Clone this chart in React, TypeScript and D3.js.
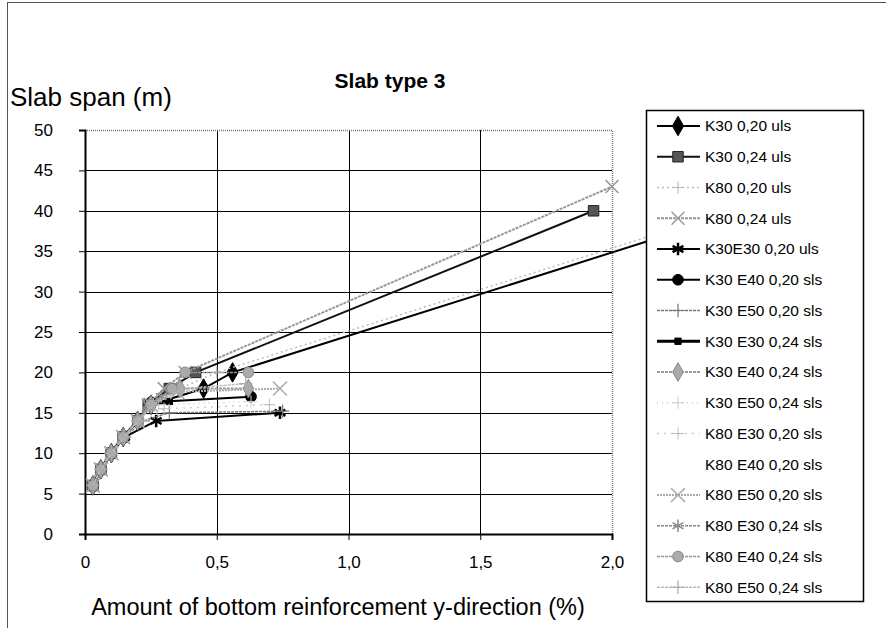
import { useEffect, useRef } from 'react';
import * as d3 from 'd3';

// x = amount of bottom reinforcement (%), y = slab span (m)
const seriesNames = [
  'K30 0,20 uls', 'K30 0,24 uls', 'K80 0,20 uls', 'K80 0,24 uls',
  'K30E30 0,20 uls', 'K30 E40 0,20 sls', 'K30 E50 0,20 sls', 'K30 E30 0,24 sls',
  'K30 E40 0,24 sls', 'K30 E50 0,24 sls', 'K80 E30 0,20 sls', 'K80 E40 0,20 sls',
  'K80 E50 0,20 sls', 'K80 E30 0,24 sls', 'K80 E40 0,24 sls', 'K80 E50 0,24 sls',
];

const K30_020_ULS: [number, number][] = [[0.03, 6], [0.06, 8], [0.1, 10], [0.145, 12], [0.2, 14], [0.25, 16], [0.45, 18], [0.56, 20], [2.5, 40]];
const K30_024_ULS: [number, number][] = [[0.03, 6], [0.06, 8], [0.1, 10], [0.145, 12], [0.2, 14], [0.24, 16], [0.32, 18], [0.42, 20], [1.93, 40]];
const K80_020_ULS: [number, number][] = [[0.03, 6], [0.06, 8], [0.1, 10], [0.15, 12], [0.2, 14], [0.26, 16], [0.36, 18], [0.5, 20], [2.45, 40]];
const K80_024_ULS: [number, number][] = [[0.03, 6], [0.06, 8], [0.1, 10], [0.145, 12], [0.2, 14], [0.24, 16], [0.3, 18], [0.38, 20], [2.0, 43]];
const K30E30_020_ULS: [number, number][] = [[0.03, 6], [0.06, 8], [0.1, 10], [0.15, 12], [0.27, 14], [0.74, 15]];
const K30E40_020_SLS: [number, number][] = [[0.03, 6], [0.06, 8], [0.1, 10], [0.145, 12], [0.2, 14], [0.25, 16.3], [0.63, 17]];
const K30E50_020_SLS: [number, number][] = [[0.03, 6], [0.06, 8], [0.1, 10], [0.15, 12], [0.22, 14], [0.32, 15], [0.75, 15.2]];
const K30E30_024_SLS: [number, number][] = [[0.03, 6], [0.06, 8], [0.1, 10], [0.145, 12], [0.2, 14], [0.25, 16], [0.32, 16.4]];
const K30E40_024_SLS: [number, number][] = [[0.03, 6], [0.06, 8], [0.1, 10], [0.145, 12], [0.2, 14], [0.25, 16], [0.36, 18], [0.62, 18]];
const K30E50_024_SLS: [number, number][] = [[0.03, 6], [0.06, 8], [0.1, 10], [0.15, 12], [0.21, 14], [0.28, 16], [0.63, 16.4]];
const K80E30_020_SLS: [number, number][] = [[0.03, 6], [0.06, 8], [0.1, 10], [0.15, 12], [0.22, 14], [0.3, 15.5], [0.7, 16]];
const K80E40_020_SLS: [number, number][] = [[0.03, 6], [0.06, 8], [0.1, 10], [0.15, 12], [0.2, 14], [0.26, 16], [0.34, 17.5]];
const K80E50_020_SLS: [number, number][] = [[0.03, 6], [0.06, 8], [0.1, 10], [0.145, 12], [0.2, 14], [0.25, 16], [0.35, 17.6], [0.74, 18]];
const K80E30_024_SLS: [number, number][] = [[0.03, 6], [0.06, 8], [0.1, 10], [0.145, 12], [0.2, 14], [0.24, 16], [0.29, 17]];
const K80E40_024_SLS: [number, number][] = [[0.03, 6], [0.06, 8], [0.1, 10], [0.145, 12], [0.2, 14], [0.25, 16], [0.33, 18], [0.38, 20], [0.62, 20]];
const K80E50_024_SLS: [number, number][] = [[0.03, 6], [0.06, 8], [0.1, 10], [0.15, 12], [0.2, 14], [0.26, 16], [0.37, 18], [0.61, 18.6]];

const seriesData = [
  K30_020_ULS, K30_024_ULS, K80_020_ULS, K80_024_ULS,
  K30E30_020_ULS, K30E40_020_SLS, K30E50_020_SLS, K30E30_024_SLS,
  K30E40_024_SLS, K30E50_024_SLS, K80E30_020_SLS, K80E40_020_SLS,
  K80E50_020_SLS, K80E30_024_SLS, K80E40_024_SLS, K80E50_024_SLS,
];

const xTicks = [0, 0.5, 1.0, 1.5, 2.0];
const yTicks = [0, 5, 10, 15, 20, 25, 30, 35, 40, 45, 50];

type Style = {
  stroke: string; width: number; dash?: string;
  symbol: d3.SymbolType | null; size: number; fill: string; mstroke: string; mwidth: number;
};

const styles: Style[] = [
  { stroke: '#000', width: 2, symbol: d3.symbolDiamond, size: 110, fill: '#000', mstroke: '#000', mwidth: 1 },
  { stroke: '#111', width: 2, symbol: d3.symbolSquare, size: 110, fill: '#555', mstroke: '#222', mwidth: 1 },
  { stroke: '#bbb', width: 1.5, dash: '2,3', symbol: d3.symbolPlus, size: 50, fill: 'none', mstroke: '#bbb', mwidth: 1.2 },
  { stroke: '#999', width: 2, dash: '3,1', symbol: d3.symbolTimes, size: 110, fill: 'none', mstroke: '#999', mwidth: 1.5 },
  { stroke: '#000', width: 2, symbol: d3.symbolAsterisk, size: 110, fill: 'none', mstroke: '#000', mwidth: 2.5 },
  { stroke: '#000', width: 2, symbol: d3.symbolCircle, size: 90, fill: '#000', mstroke: '#000', mwidth: 1 },
  { stroke: '#777', width: 1.5, dash: '3,1', symbol: d3.symbolPlus, size: 60, fill: 'none', mstroke: '#777', mwidth: 1.2 },
  { stroke: '#000', width: 3, symbol: d3.symbolSquare, size: 40, fill: '#000', mstroke: '#000', mwidth: 1 },
  { stroke: '#999', width: 2, dash: '3,1', symbol: d3.symbolDiamond, size: 100, fill: '#aaa', mstroke: '#888', mwidth: 1 },
  { stroke: '#ccc', width: 1.5, dash: '1,4', symbol: d3.symbolPlus, size: 50, fill: 'none', mstroke: '#ccc', mwidth: 1 },
  { stroke: '#ccc', width: 1.5, dash: '2,5', symbol: d3.symbolPlus, size: 50, fill: 'none', mstroke: '#bbb', mwidth: 1 },
  { stroke: 'none', width: 0, symbol: null, size: 0, fill: 'none', mstroke: 'none', mwidth: 0 },
  { stroke: '#aaa', width: 2, dash: '2,1', symbol: d3.symbolTimes, size: 130, fill: 'none', mstroke: '#aaa', mwidth: 1.5 },
  { stroke: '#888', width: 1.5, dash: '3,1', symbol: d3.symbolAsterisk, size: 110, fill: 'none', mstroke: '#888', mwidth: 1.5 },
  { stroke: '#999', width: 1.5, dash: '3,1', symbol: d3.symbolCircle, size: 90, fill: '#aaa', mstroke: '#888', mwidth: 1 },
  { stroke: '#bbb', width: 1.5, dash: '3,1', symbol: d3.symbolPlus, size: 60, fill: 'none', mstroke: '#aaa', mwidth: 1.2 },
];

const FONT = '"Liberation Sans", Arial, sans-serif';

export default function App() {
  const svgRef = useRef<SVGSVGElement>(null);

  useEffect(() => {
    document.body.style.margin = '0';
    if (!svgRef.current) return;

    const width = 886;
    const height = 628;
    const plot = { left: 85, right: 612, top: 130, bottom: 534 };

    const svg = d3.select(svgRef.current);
    svg.selectAll('*').remove();
    svg.attr('width', width).attr('height', height);

    svg.append('rect').attr('width', width).attr('height', height).attr('fill', '#fff');

    // chart frame
    svg.append('rect')
      .attr('x', 7.5).attr('y', 2.5).attr('width', 1000).attr('height', 1000)
      .attr('fill', 'none').attr('stroke', '#555').attr('stroke-width', 1);

    const x = d3.scaleLinear().domain([0, 2]).range([plot.left, plot.right]);
    const y = d3.scaleLinear().domain([0, 50]).range([plot.bottom, plot.top]);

    // Grid
    svg.append('g')
      .selectAll('line')
      .data(yTicks.filter((d) => d > 0 && d < 50))
      .join('line')
      .attr('x1', plot.left).attr('x2', plot.right)
      .attr('y1', (d) => Math.round(y(d)) + 0.5).attr('y2', (d) => Math.round(y(d)) + 0.5)
      .attr('stroke', '#000').attr('stroke-width', 1);

    svg.append('g')
      .selectAll('line')
      .data(xTicks.filter((d) => d > 0 && d < 2))
      .join('line')
      .attr('x1', (d) => Math.round(x(d)) + 0.5).attr('x2', (d) => Math.round(x(d)) + 0.5)
      .attr('y1', plot.top).attr('y2', plot.bottom)
      .attr('stroke', '#000').attr('stroke-width', 1);

    // plot border (top / right) dotted gray
    svg.append('path')
      .attr('d', `M${plot.left},${plot.top + 0.5}H${plot.right + 0.5}V${plot.bottom}`)
      .attr('fill', 'none').attr('stroke', '#777').attr('stroke-width', 1.5)
      .attr('stroke-dasharray', '1,1');

    // Axes
    const yAxis = svg.append('g')
      .attr('transform', `translate(${plot.left},0)`)
      .call(d3.axisLeft(y).tickValues(yTicks).tickSize(6).tickPadding(26).tickFormat((d) => `${d}`));
    const xAxis = svg.append('g')
      .attr('transform', `translate(0,${plot.bottom})`)
      .call(d3.axisBottom(x).tickValues(xTicks).tickSize(6).tickPadding(16)
        .tickFormat((d) => (d === 0 ? '0' : (d as number).toFixed(1).replace('.', ','))));
    [yAxis, xAxis].forEach((ax) => {
      ax.select('.domain').attr('stroke', '#000').attr('stroke-width', 2);
      ax.selectAll('.tick line').attr('stroke', '#000');
      ax.selectAll('text').attr('fill', '#000').attr('font-size', '17px').attr('font-family', FONT);
    });

    // Series
    const line = d3.line<[number, number]>().x((d) => x(d[0])).y((d) => y(d[1]));
    seriesData.forEach((data, i) => {
      const s = styles[i];
      if (s.stroke === 'none') return;
      svg.append('path')
        .datum(data)
        .attr('fill', 'none')
        .attr('stroke', s.stroke)
        .attr('stroke-width', s.width)
        .attr('stroke-dasharray', s.dash ?? null)
        .attr('d', line);
      if (s.symbol) {
        svg.append('g')
          .selectAll('path')
          .data(data)
          .join('path')
          .attr('transform', (d) => `translate(${x(d[0])},${y(d[1])})`)
          .attr('d', d3.symbol(s.symbol, s.size)())
          .attr('fill', s.fill)
          .attr('stroke', s.mstroke)
          .attr('stroke-width', s.mwidth);
      }
    });

    // Titles
    svg.append('text')
      .attr('x', 10).attr('y', 106)
      .attr('font-family', FONT).attr('font-size', '26px').attr('fill', '#000')
      .text('Slab span (m)');
    svg.append('text')
      .attr('x', 390).attr('y', 88).attr('text-anchor', 'middle')
      .attr('font-family', FONT).attr('font-size', '21px').attr('font-weight', 'bold').attr('fill', '#000')
      .text('Slab type 3');
    svg.append('text')
      .attr('x', 338).attr('y', 615).attr('text-anchor', 'middle')
      .attr('font-family', FONT).attr('font-size', '23.5px').attr('fill', '#000')
      .text('Amount of bottom reinforcement y-direction (%)');

    // Legend
    const lg = { x: 646, y: 110, w: 217, h: 491, top: 126, step: 30.75 };
    svg.append('rect')
      .attr('x', lg.x + 0.5).attr('y', lg.y + 0.5).attr('width', lg.w).attr('height', lg.h)
      .attr('fill', '#fff').attr('stroke', '#000').attr('stroke-width', 1.5);

    const items = svg.append('g')
      .selectAll('g')
      .data(seriesNames)
      .join('g')
      .attr('transform', (_, i) => `translate(0,${lg.top + i * lg.step})`);

    items.each(function (_, i) {
      const s = styles[i];
      const g = d3.select(this);
      if (s.stroke !== 'none') {
        g.append('line')
          .attr('x1', 657).attr('x2', 700).attr('y1', 0).attr('y2', 0)
          .attr('stroke', s.stroke).attr('stroke-width', s.width)
          .attr('stroke-dasharray', s.dash ?? null);
      }
      if (s.symbol) {
        g.append('path')
          .attr('transform', 'translate(678,0)')
          .attr('d', d3.symbol(s.symbol, s.size)())
          .attr('fill', s.fill).attr('stroke', s.mstroke).attr('stroke-width', s.mwidth);
      }
    });

    items.append('text')
      .attr('x', 705).attr('y', 0).attr('dy', '0.35em')
      .attr('font-family', FONT).attr('font-size', '15.5px').attr('fill', '#000')
      .text((d) => d);
  }, []);

  return <svg ref={svgRef} style={{ display: 'block' }} />;
}
